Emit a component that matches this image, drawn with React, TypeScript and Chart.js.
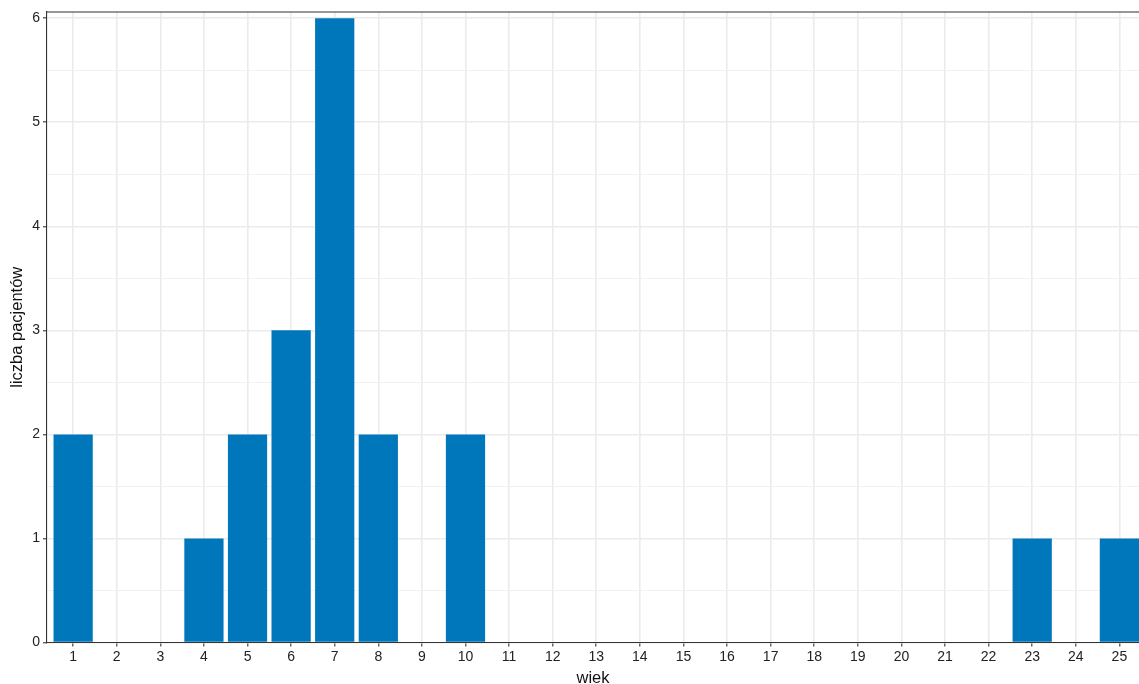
import React, { useEffect, useRef } from "react";
import { Chart, registerables } from "chart.js";

Chart.register(...registerables);

const ages: number[] = [1, 2, 3, 4, 5, 6, 7, 8, 9, 10, 11, 12, 13, 14, 15, 16, 17, 18, 19, 20, 21, 22, 23, 24, 25];
const patientCounts: number[] = [2, 0, 0, 1, 2, 3, 6, 2, 0, 2, 0, 0, 0, 0, 0, 0, 0, 0, 0, 0, 0, 0, 1, 0, 1];
const yTickValues: number[] = [0, 0.5, 1, 1.5, 2, 2.5, 3, 3.5, 4, 4.5, 5, 5.5, 6];
const xTitle = "wiek";
const yTitle = "liczba pacjentów";

const FONT = "'Liberation Sans', Arial, Helvetica, sans-serif";

const frameTop = {
  id: "frameTop",
  afterDraw(chart: any) {
    const { ctx, chartArea } = chart;
    ctx.save();
    ctx.strokeStyle = "#333333";
    ctx.lineWidth = 1.1;
    ctx.beginPath();
    ctx.moveTo(chartArea.left, chartArea.top);
    ctx.lineTo(chartArea.right, chartArea.top);
    ctx.stroke();
    ctx.restore();
  },
};

export default function App() {
  const ref = useRef<HTMLCanvasElement | null>(null);
  useEffect(() => {
    document.body.style.margin = "0";
    const canvas = ref.current;
    if (!canvas) return;
    const chart = new Chart(canvas, {
      type: "bar",
      data: {
        datasets: [
          {
            data: ages.map((a, i) => ({ x: a, y: patientCounts[i] })),
            backgroundColor: "#0077BB",
            borderWidth: 0,
            categoryPercentage: 0.9,
            barPercentage: 1,
          },
        ],
      },
      options: {
        animation: false,
        responsive: true,
        maintainAspectRatio: false,
        layout: { padding: { top: 12, right: 0, left: 0, bottom: 0 } },
        plugins: { legend: { display: false }, tooltip: { enabled: false } },
        scales: {
          x: {
            type: "linear",
            offset: false,
            min: 0.4,
            max: 25.45,
            afterBuildTicks: (scale: any) => {
              scale.ticks = ages.map((v) => ({ value: v }));
            },
            afterFit: (scale: any) => {
              scale.height = 41.5;
            },
            ticks: {
              autoSkip: false,
              maxRotation: 0,
              padding: 2,
              color: "#222222",
              font: { family: FONT, size: 14 },
              callback: (v: any) => String(v),
            },
            grid: {
              offset: false,
              color: "#ebebeb",
              lineWidth: 1.6,
              drawTicks: true,
              tickLength: 4,
              tickColor: "#333333",
              tickWidth: 1.1,
            },
            border: { color: "#333333", width: 1.1 },
            title: {
              display: true,
              text: xTitle,
              color: "#111111",
              font: { family: FONT, size: 16.5, lineHeight: 1 },
              padding: { top: 0, bottom: -2.5 },
            },
          },
          y: {
            type: "linear",
            min: 0,
            max: 6.06,
            afterBuildTicks: (scale: any) => {
              scale.ticks = yTickValues.map((v) => ({ value: v }));
            },
            afterFit: (scale: any) => {
              scale.width = 47;
            },
            ticks: {
              autoSkip: false,
              padding: 3,
              color: "#222222",
              font: { family: FONT, size: 14 },
              callback: (v: any) => (Number.isInteger(v) ? String(v) : ""),
            },
            grid: {
              color: (c: any) => (Number.isInteger(c.tick?.value) ? "#ebebeb" : "#f2f2f2"),
              lineWidth: (c: any) => (Number.isInteger(c.tick?.value) ? 1.6 : 1),
              drawTicks: true,
              tickLength: 4,
              tickColor: (c: any) => (Number.isInteger(c.tick?.value) ? "#333333" : "rgba(0,0,0,0)"),
              tickWidth: 1.1,
            },
            border: { color: "#333333", width: 1.1 },
            title: {
              display: true,
              text: yTitle,
              color: "#111111",
              font: { family: FONT, size: 16.5, lineHeight: 1 },
              padding: { top: 9, bottom: 0 },
            },
          },
        },
      },
      plugins: [frameTop],
    } as any);
    return () => chart.destroy();
  }, []);
  return (
    <div style={{ position: "absolute", left: 0, top: 0, width: 1139, height: 684 }}>
      <canvas ref={ref} />
    </div>
  );
}
